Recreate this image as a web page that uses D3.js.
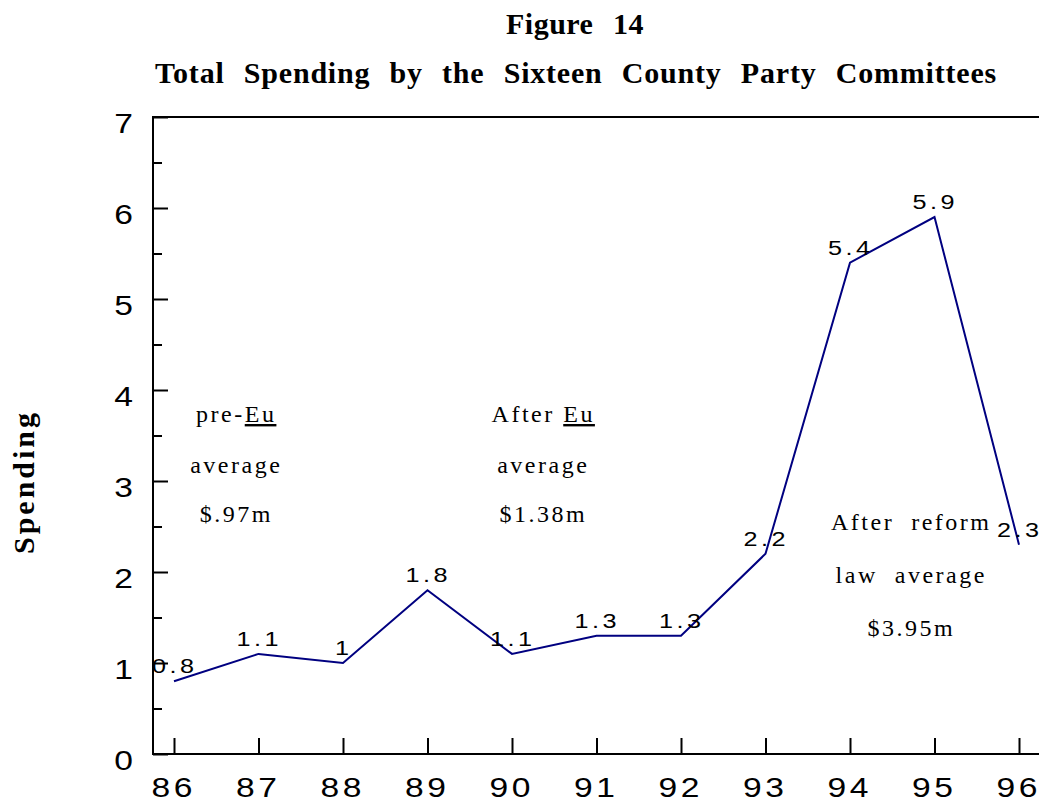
<!DOCTYPE html>
<html>
<head>
<meta charset="utf-8">
<script src="https://cdn.jsdelivr.net/npm/d3@7"></script>
<style>
  body { margin: 0; background: #fff; }
  svg { display: block; }
  .serif { font-family: "Liberation Serif", "Times New Roman", Times, serif; }
  .sans { font-family: "Liberation Sans", Arial, Helvetica, sans-serif; }
</style>
</head>
<body>
<div id="chart"></div>
<script>

// chart data
var years = ["86", "87", "88", "89", "90", "91", "92", "93", "94", "95", "96"];
var spending = [0.8, 1.1, 1, 1.8, 1.1, 1.3, 1.3, 2.2, 5.4, 5.9, 2.3];
var yTicks = [0, 1, 2, 3, 4, 5, 6, 7];
var yMinorTicks = [0.5, 1.5, 2.5, 3.5, 4.5, 5.5, 6.5];

var titleText = "Figure 14";
var subtitleText = "Total Spending by the Sixteen County Party Committees";
var yLabelText = "Spending";

// period averages, one list of lines per note
var preNote = [["pre-", "Eu"], ["average"], ["$.97m"]];
var afterNote = [["After ", "Eu"], ["average"], ["$1.38m"]];
var reformNote = [["After  reform"], ["law  average"], ["$3.95m"]];

/**
 * Builds the whole chart
 */
function SpendingChart(){
    var self = this;
    self.init();
    self.update();
};

SpendingChart.prototype.init = function(){
    var self = this;
    self.width = 1039;
    self.height = 802;

    self.svg = d3.select("#chart").append("svg")
        .attr("width", self.width)
        .attr("height", self.height);

    //plot area
    self.left = 153;
    self.top = 117;
    self.bottom = 754;

    //the original's sans text is drawn a bit wide
    self.wide = 1.2;

    self.x = d3.scalePoint()
        .domain(years)
        .range([174, 1019]);

    self.y = d3.scaleLinear()
        .domain([0, 7])
        .range([self.bottom, self.top]);
};

SpendingChart.prototype.update = function(){
    var self = this;
    var svg = self.svg;

    //titles, word gaps stretched to fit like the original
    var fitText = function(sel, target){
        var n = sel.text().split(" ").length - 1;
        var len = sel.node().getComputedTextLength();
        sel.attr("word-spacing", (target - len) / n);
    };

    var t1 = svg.append("text")
        .attr("class", "serif")
        .attr("x", 575).attr("y", 34)
        .attr("text-anchor", "middle")
        .attr("font-weight", "bold")
        .attr("font-size", 30)
        .attr("letter-spacing", 0.5)
        .text(titleText);
    fitText(t1, 138);

    var t2 = svg.append("text")
        .attr("class", "serif")
        .attr("x", 576).attr("y", 83)
        .attr("text-anchor", "middle")
        .attr("font-weight", "bold")
        .attr("font-size", 30)
        .attr("letter-spacing", 0.8)
        .text(subtitleText);
    fitText(t2, 842);

    svg.append("text")
        .attr("class", "serif")
        .attr("transform", "translate(34,482) rotate(-90)")
        .attr("text-anchor", "middle")
        .attr("font-weight", "bold")
        .attr("font-size", 30)
        .attr("letter-spacing", 3)
        .text(yLabelText);

    //y axis, ticks point into the plot
    svg.append("g")
        .attr("transform", "translate(" + self.left + ",0)")
        .call(d3.axisRight(self.y).tickValues(yMinorTicks).tickSize(9).tickSizeOuter(0).tickFormat(""))
        .call(function(g){ g.select(".domain").remove(); });

    svg.append("g")
        .attr("transform", "translate(" + self.left + ",0)")
        .call(d3.axisRight(self.y).tickValues(yTicks).tickSize(15).tickSizeOuter(0).tickFormat(""))
        .call(function(g){ g.select(".domain").remove(); });

    svg.selectAll(".tick line")
        .attr("stroke", "#000")
        .attr("stroke-width", 2);

    svg.selectAll(".ylab")
        .data(yTicks)
        .enter().append("text")
        .attr("class", "ylab sans")
        .attr("transform", function(d){
            return "translate(133," + (self.y(d) + 16) + ") scale(" + self.wide + ",1)";
        })
        .attr("text-anchor", "end")
        .attr("font-size", 28)
        .text(function(d){ return d; });

    //x axis, ticks point up
    var xg = svg.append("g")
        .attr("transform", "translate(0," + self.bottom + ")")
        .call(d3.axisTop(self.x).tickSize(16).tickSizeOuter(0).tickFormat(""));
    xg.select(".domain").remove();
    xg.selectAll(".tick line").attr("stroke", "#000").attr("stroke-width", 2);

    var xls = 3;
    svg.selectAll(".xlab")
        .data(years)
        .enter().append("text")
        .attr("class", "xlab sans")
        .attr("transform", function(d){
            var cx = self.x(d) - 2 + xls * self.wide / 2;
            return "translate(" + cx + ",797) scale(" + self.wide + ",1)";
        })
        .attr("text-anchor", "middle")
        .attr("letter-spacing", xls)
        .attr("font-size", 28)
        .text(function(d){ return d; });

    //frame lines, left, bottom and top
    svg.append("line")
        .attr("x1", self.left).attr("x2", self.left)
        .attr("y1", self.top - 1).attr("y2", self.bottom + 1)
        .attr("stroke", "#000").attr("stroke-width", 2);
    svg.append("line")
        .attr("x1", self.left - 1).attr("x2", self.width)
        .attr("y1", self.bottom).attr("y2", self.bottom)
        .attr("stroke", "#000").attr("stroke-width", 2);
    svg.append("line")
        .attr("x1", self.left - 1).attr("x2", self.width)
        .attr("y1", self.top).attr("y2", self.top)
        .attr("stroke", "#000").attr("stroke-width", 2);

    //data line
    var line = d3.line()
        .x(function(d, i){ return self.x(years[i]); })
        .y(function(d){ return self.y(d); });

    svg.append("path")
        .datum(spending)
        .attr("d", line)
        .attr("fill", "none")
        .attr("stroke", "#000080")
        .attr("stroke-width", 2);

    //value labels
    var vls = 3;
    svg.selectAll(".vlab")
        .data(spending)
        .enter().append("text")
        .attr("class", "vlab sans")
        .attr("transform", function(d, i){
            var cx = self.x(years[i]) + vls * self.wide / 2 - 1;
            return "translate(" + cx + "," + (self.y(d) - 8) + ") scale(" + self.wide + ",1)";
        })
        .attr("text-anchor", "middle")
        .attr("letter-spacing", vls)
        .attr("font-size", 21)
        .text(function(d){ return d; });

    //period average notes
    var drawNote = function(lines, cx, ys){
        var nls = 2.5;
        lines.forEach(function(parts, i){
            var t = svg.append("text")
                .attr("class", "serif")
                .attr("x", cx + nls / 2)
                .attr("y", ys[i])
                .attr("text-anchor", "middle")
                .attr("letter-spacing", nls)
                .attr("font-size", 24)
                .style("white-space", "pre");
            parts.forEach(function(p, j){
                t.append("tspan")
                    .attr("text-decoration", j == 1 ? "underline" : null)
                    .text(p);
            });
        });
    };

    drawNote(preNote, 235, [422, 473, 522]);
    drawNote(afterNote, 542, [422, 473, 522]);
    drawNote(reformNote, 910, [530, 583, 636]);
};

new SpendingChart();
</script>
</body>
</html>
